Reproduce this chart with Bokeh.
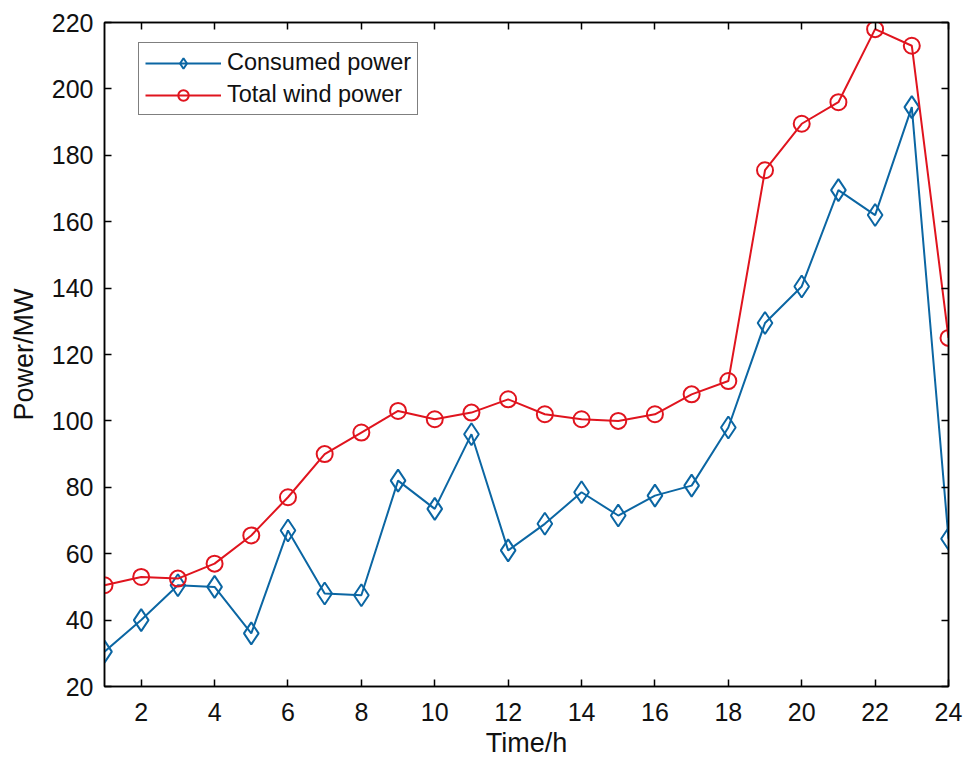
from bokeh.plotting import figure
from bokeh.models import LinearAxis, Legend, LegendItem, FixedTicker, Range1d, CustomLabelingPolicy
from bokeh.embed import file_html
from bokeh.resources import INLINE

hours = list(range(1, 25))
consumed = [30.5, 40, 50.5, 50, 36, 67, 48, 47.5, 82, 73.5, 96, 61,
            69, 78.5, 71.5, 77.5, 80.5, 98, 129.5, 140.5, 169.5, 162, 194.5, 64.5]
wind = [50.5, 53, 52.5, 57, 65.5, 77, 90, 96.5, 103, 100.5, 102.5, 106.5,
        102, 100.5, 100, 102, 108, 112, 175.5, 189.5, 196, 218, 213, 125]
x_ticks = list(range(2, 25, 2))
y_ticks = list(range(20, 221, 20))

BLUE = "#0b66a3"
RED = "#e0141e"
FONT = "Liberation Sans"

p = figure(width=963, height=765, output_backend="svg", toolbar_location=None,
           x_range=Range1d(1, 24), y_range=Range1d(20, 220),
           min_border_left=104, min_border_right=15, min_border_top=22, min_border_bottom=79)
p.xgrid.visible = False
p.ygrid.visible = False
p.outline_line_color = "black"
p.outline_line_width = 1.5

for ax in (p.xaxis[0], p.yaxis[0]):
    ax.major_label_text_font = FONT
    ax.major_label_text_font_size = "25px"
    ax.major_label_text_color = "#111111"
    ax.axis_label_text_font = FONT
    ax.axis_label_text_font_size = "27px"
    ax.axis_label_text_font_style = "normal"
    ax.axis_label_text_color = "#111111"
    ax.major_tick_in = 7
    ax.major_tick_out = 0
    ax.minor_tick_in = 0
    ax.minor_tick_out = 0
    ax.axis_line_color = "black"
    ax.axis_line_width = 1.5
    ax.major_tick_line_width = 1.5

p.xaxis[0].ticker = FixedTicker(ticks=x_ticks)
p.yaxis[0].ticker = FixedTicker(ticks=y_ticks)
p.xaxis[0].axis_label = "Time/h"
p.yaxis[0].axis_label = "Power/MW"
p.xaxis[0].major_label_standoff = 16
p.yaxis[0].major_label_standoff = 11
p.xaxis[0].axis_label_standoff = 4
p.yaxis[0].axis_label_standoff = 10

top = LinearAxis(ticker=FixedTicker(ticks=x_ticks), major_label_text_font_size="1px",
                 major_label_policy=CustomLabelingPolicy(code="for (const i of indices) indices.unset(i); return indices"),
                 major_tick_in=7, major_tick_out=0, minor_tick_in=0, minor_tick_out=0,
                 axis_line_width=1.5, major_tick_line_width=1.5)
right = LinearAxis(ticker=FixedTicker(ticks=y_ticks), major_label_text_font_size="1px",
                   major_label_policy=CustomLabelingPolicy(code="for (const i of indices) indices.unset(i); return indices"),
                   major_tick_in=7, major_tick_out=0, minor_tick_in=0, minor_tick_out=0,
                   axis_line_width=1.5, major_tick_line_width=1.5)
p.add_layout(top, "above")
p.add_layout(right, "right")

l1 = p.line(hours, consumed, line_color=BLUE, line_width=2)
m1 = p.scatter(hours, consumed, marker="diamond", size=22, fill_color=None,
               line_color=BLUE, line_width=2)
l2 = p.line(hours, wind, line_color=RED, line_width=2)
m2 = p.scatter(hours, wind, marker="circle", size=16, fill_color=None,
               line_color=RED, line_width=2)

legend = Legend(items=[LegendItem(label="Consumed power", renderers=[l1, m1]),
                       LegendItem(label="Total wind power", renderers=[l2, m2])],
                location=(34, 571), orientation="vertical")
legend.label_text_font = FONT
legend.label_text_font_size = "23.5px"
legend.label_text_color = "#111111"
legend.glyph_width = 76
legend.glyph_height = 26
legend.label_height = 26
legend.spacing = 5
legend.padding = 6
legend.margin = 0
legend.border_line_color = "black"
legend.border_line_width = 1.5
legend.label_standoff = 6
p.add_layout(legend, "center")

open("out.html", "w").write(file_html(p, INLINE))
